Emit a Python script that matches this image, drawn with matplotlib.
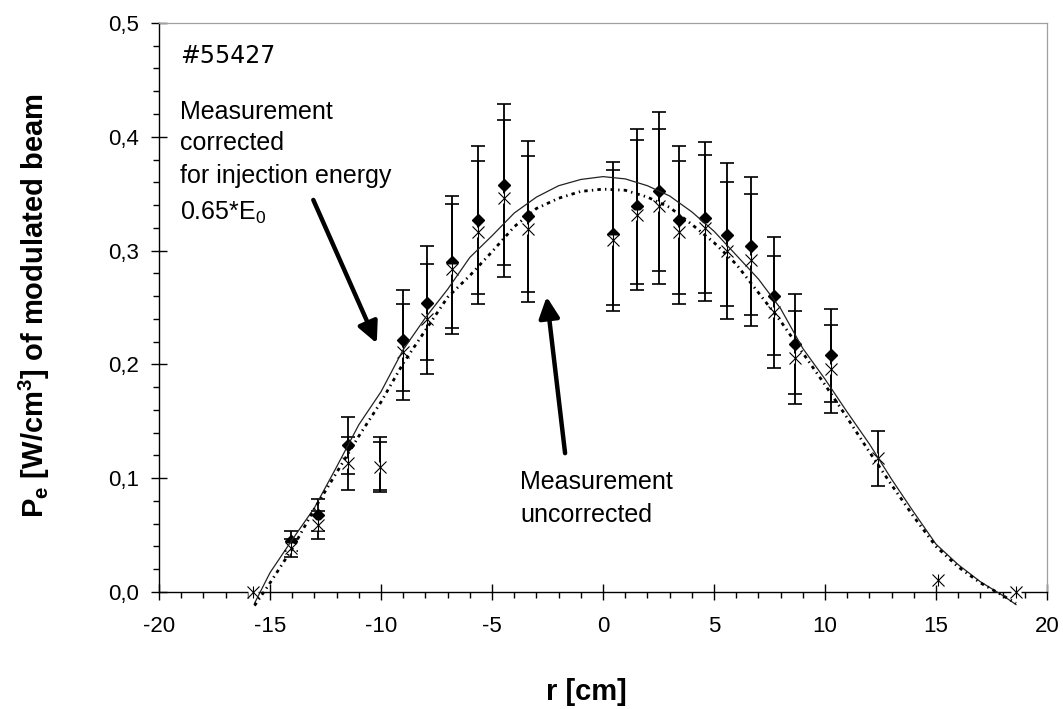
import numpy as np
import matplotlib
matplotlib.use("Agg")
import matplotlib.pyplot as plt
from matplotlib.ticker import MultipleLocator, FuncFormatter

plt.rcParams['font.family'] = ['Liberation Sans', 'DejaVu Sans']
plt.rcParams['mathtext.fontset'] = 'custom'
plt.rcParams['mathtext.rm'] = 'Liberation Sans'
plt.rcParams['mathtext.bf'] = 'Liberation Sans:bold'
plt.rcParams['axes.unicode_minus'] = False
plt.rcParams['lines.scale_dashes'] = False

# corrected measurement (diamonds)
r_corr = [-14.07, -12.82, -11.47, -10.05, -8.99, -7.94, -6.79, -5.61, -4.46, -3.36,
          0.44, 1.55, 2.52, 3.42, 4.59, 5.57, 6.67, 7.72, 8.65, 10.27]
p_corr = [0.045, 0.068, 0.129, 0.113, 0.221, 0.254, 0.290, 0.327, 0.358, 0.330,
          0.315, 0.339, 0.352, 0.327, 0.329, 0.314, 0.304, 0.260, 0.218, 0.208]
err_corr = [0.009, 0.014, 0.025, 0.023, 0.044, 0.050, 0.058, 0.065, 0.071, 0.066,
            0.063, 0.068, 0.070, 0.065, 0.066, 0.063, 0.061, 0.052, 0.044, 0.041]
# diamond hidden behind the star at r = -10
show_corr = [True, True, True, False, True, True, True, True, True, True,
             True, True, True, True, True, True, True, True, True, True]

# uncorrected measurement (stars)
r_unc = [-15.76, -14.07, -12.82, -11.47, -10.05, -8.99, -7.94, -6.79, -5.61, -4.46,
         -3.36, 0.44, 1.55, 2.52, 3.42, 4.59, 5.57, 6.67, 7.72, 8.65, 10.27, 12.40,
         15.08, 18.59]
p_unc = [0.0, 0.039, 0.059, 0.113, 0.110, 0.211, 0.240, 0.284, 0.316, 0.346,
         0.319, 0.309, 0.331, 0.339, 0.316, 0.320, 0.300, 0.292, 0.246, 0.206,
         0.196, 0.1175, 0.0105, 0.0]
err_unc = [0.0, 0.008, 0.012, 0.023, 0.022, 0.042, 0.048, 0.057, 0.063, 0.069,
           0.064, 0.062, 0.066, 0.068, 0.063, 0.064, 0.060, 0.058, 0.049, 0.041,
           0.039, 0.024, 0.0, 0.0]

# model profiles
r_fit = [-15.7, -15, -14, -13, -12, -11, -10, -9, -8, -7, -6, -5, -4, -3, -2, -1, 0,
         1, 2, 3, 4, 5, 6, 7, 8, 9, 10, 11, 12, 13, 14, 15, 16, 17, 18, 18.6]
fit_corr = [-0.010, 0.017, 0.046, 0.074, 0.110, 0.147, 0.176, 0.213, 0.241, 0.266,
            0.294, 0.313, 0.333, 0.347, 0.357, 0.3625, 0.365, 0.363, 0.357, 0.348,
            0.334, 0.317, 0.296, 0.275, 0.249, 0.214, 0.187, 0.158, 0.130, 0.099,
            0.070, 0.042, 0.024, 0.009, -0.003, -0.011]
fit_unc = [-0.012, 0.008, 0.038, 0.073, 0.105, 0.137, 0.167, 0.201, 0.230, 0.259,
           0.278, 0.299, 0.321, 0.337, 0.346, 0.352, 0.354, 0.353, 0.347, 0.338,
           0.323, 0.307, 0.288, 0.263, 0.238, 0.210, 0.182, 0.153, 0.123, 0.094,
           0.066, 0.040, 0.022, 0.008, -0.003, -0.010]

fig = plt.figure(figsize=(10.63, 7.09), dpi=100)
ax = fig.add_axes([0.1496, 0.165, 0.8354, 0.8026])

rc = np.array(r_corr); pc = np.array(p_corr); ec = np.array(err_corr)
ru = np.array(r_unc); pu = np.array(p_unc); eu = np.array(err_unc)
m = eu > 0

# error bars
ax.errorbar(rc, pc, yerr=ec, fmt='none', ecolor='black', elinewidth=1.3,
            capsize=4.8, capthick=1.2, zorder=2)
ax.errorbar(ru[m], pu[m], yerr=eu[m], fmt='none', ecolor='black', elinewidth=1.3,
            capsize=4.8, capthick=1.2, zorder=2)

# markers
sc = np.array(show_corr)
ax.plot(rc[sc], pc[sc], 'D', color='black', ms=6, zorder=3)
ax.plot(ru, pu, 's', color='white', ms=7.5, mec='none', zorder=4, clip_on=False)
ax.plot(ru, pu, 'x', color='black', ms=8, mew=0.8, zorder=5, clip_on=False)
ax.plot(ru, pu, '|', color='black', ms=8, mew=0.8, zorder=5, clip_on=False)

# profiles
ax.plot(r_fit, fit_corr, '-', color='#222222', lw=0.9, zorder=6, clip_on=False)
ax.plot(r_fit, fit_unc, color='black', lw=2.0, linestyle=(0, (2.5, 3, 1, 3)),
        zorder=6, clip_on=False)

ax.set_xlim(-20, 20)
ax.set_ylim(0, 0.5)
ax.xaxis.set_major_locator(MultipleLocator(5))
ax.xaxis.set_minor_locator(MultipleLocator(1))
ax.yaxis.set_major_locator(MultipleLocator(0.1))
ax.yaxis.set_minor_locator(MultipleLocator(0.02))
ax.yaxis.set_major_formatter(FuncFormatter(lambda v, p: ('%.1f' % v).replace('.', ',')))
ax.xaxis.set_major_formatter(FuncFormatter(lambda v, p: '%d' % round(v)))

ax.tick_params(which='major', direction='inout', length=11, width=1.0, labelsize=16)
ax.tick_params(axis='x', which='major', pad=12)
ax.tick_params(axis='y', which='major', pad=9)
ax.tick_params(which='minor', direction='out', length=4, width=1.0)

for s in ['left', 'bottom']:
    ax.spines[s].set_color('black')
    ax.spines[s].set_linewidth(1.0)
for s in ['top', 'right']:
    ax.spines[s].set_color('#a0a0a0')
    ax.spines[s].set_linewidth(0.9)

# annotations
ax.text(-19.05, 0.4646, '#55427', family='DejaVu Sans', fontsize=17, va='baseline')
ax.text(-19.05, 0.4154, 'Measurement', fontsize=18, va='baseline')
ax.text(-19.05, 0.3884, 'corrected', fontsize=18, va='baseline')
ax.text(-19.05, 0.3591, 'for injection energy', fontsize=18, va='baseline')
ax.text(-19.05, 0.3269, r'0.65*E$_\mathrm{0}$', fontsize=18, va='baseline')

ax.text(-3.74, 0.0905, 'Measurement', fontsize=18, va='baseline')
ax.text(-3.74, 0.0615, 'uncorrected', fontsize=18, va='baseline')

arrow = dict(arrowstyle='-|>,head_length=0.45,head_width=0.22', lw=3.2,
             color='black', mutation_scale=28, shrinkA=0, shrinkB=0)
ax.annotate('', xy=(-10.19, 0.2185), xytext=(-13.05, 0.3445), arrowprops=arrow, zorder=7)
ax.annotate('', xy=(-2.54, 0.2595), xytext=(-1.71, 0.122), arrowprops=arrow, zorder=7)

# axis labels
fig.text(586 / 1063, 1 - 692 / 709, 'r [cm]', fontsize=21, fontweight='bold',
         ha='center', va='center')
fig.text(34 / 1063, 1 - 306 / 709,
         r'$\mathbf{P_{e}}$ [W/cm$^\mathbf{3}$] of modulated beam',
         fontsize=21, fontweight='bold', rotation=90, ha='center', va='center')

fig.savefig('out.png', dpi=100)
